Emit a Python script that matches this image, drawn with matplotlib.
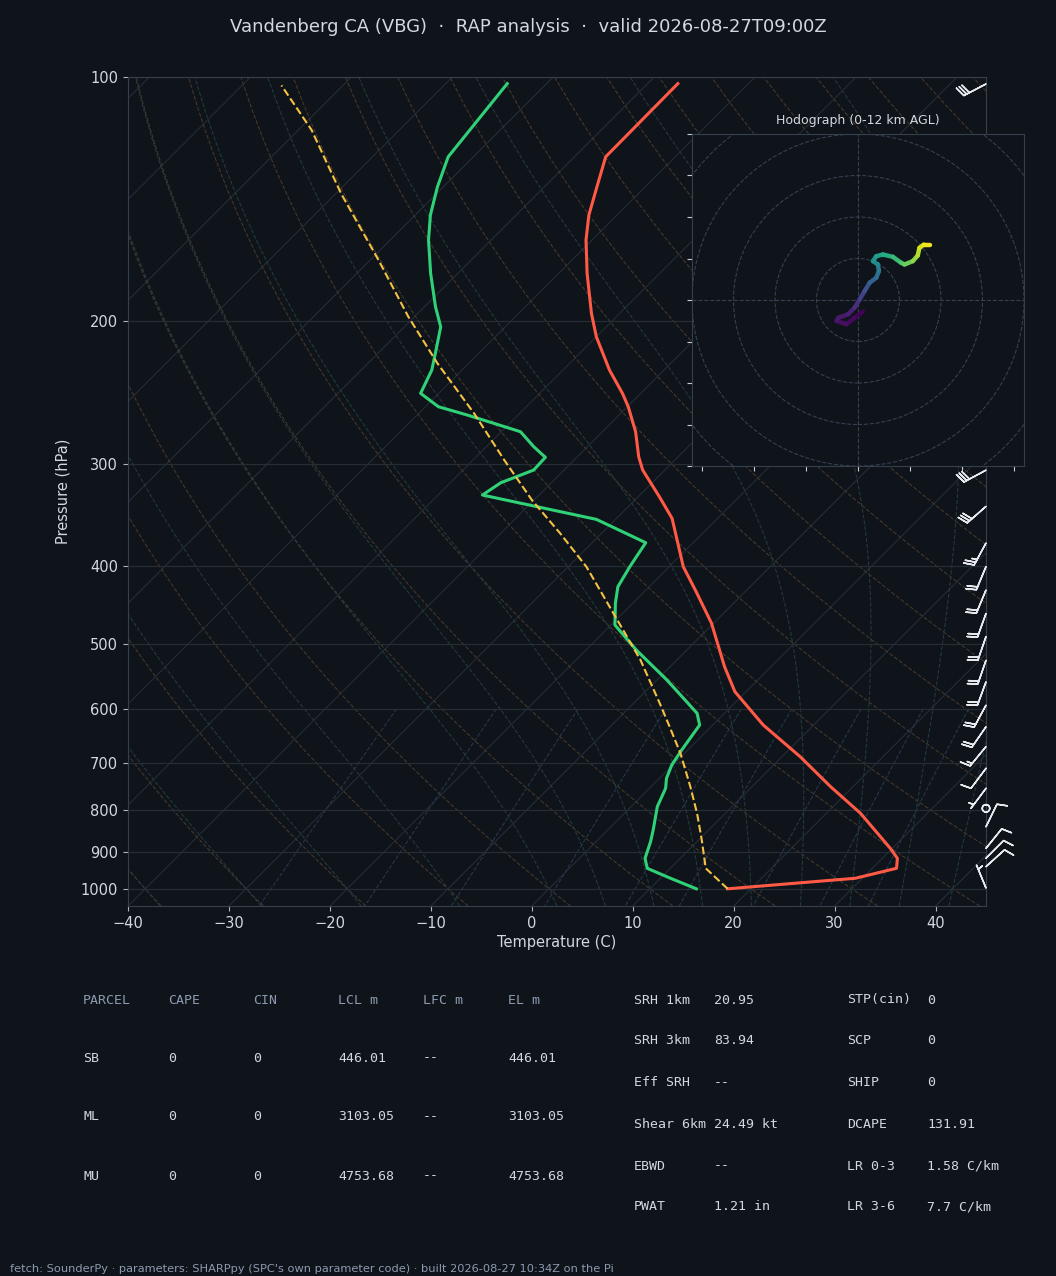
import numpy as np
import matplotlib
matplotlib.use('Agg')
import matplotlib.pyplot as plt
from matplotlib.transforms import Affine2D, blended_transform_factory
from matplotlib.collections import LineCollection
from matplotlib.patches import Circle
from matplotlib.ticker import FixedLocator, ScalarFormatter, NullLocator

# ---- sounding (hPa, degC) ----
PRES_T = [1000, 970.6, 943.5, 917.2, 891.5, 807.4, 748.7, 687.5, 628.4, 571.8,
          532.7, 470.9, 428.5, 401.1, 349.7, 328.9, 304.9, 293.7, 273.5, 254.8,
          245.3, 229.6, 208.9, 195.5, 174.5, 158.8, 147.9, 136.5, 125.4, 101.9]
TEMP = [17.7, 29.3, 32.4, 31.5, 29.8, 23.4, 17.8, 11.8, 5.0, -1.1,
        -4.6, -10.2, -15.1, -18.6, -24.5, -27.9, -32.2, -33.9, -36.7, -39.9,
        -41.8, -45.4, -50.0, -52.8, -57.2, -60.6, -62.8, -64.8, -66.9, -67.0]

PRES_TD = [1000, 970.6, 943.5, 917.2, 875, 846.4, 792.3, 752, 731, 703.9,
           674.6, 628.4, 608, 588.2, 553.1, 508, 473.2, 445, 424.5, 401.1,
           374.7, 350.7, 327.3, 316.1, 304.9, 294.1, 285.4, 273.5, 260.9, 254.8,
           245.3, 229.6, 219, 203.1, 191.9, 174.5, 158.8, 147.9, 136.5, 125.4, 101.9]
DWPT = [14.6, 11.0, 7.7, 6.5, 5.4, 4.5, 2.6, 1.6, 0.7, -0.1,
        -0.6, -1.3, -2.7, -4.9, -9.0, -15.0, -19.6, -21.7, -23.1, -23.9,
        -24.7, -31.9, -45.6, -45.0, -43.0, -43.1, -45.3, -48.1, -55.0, -58.7,
        -61.8, -63.0, -64.3, -66.4, -68.9, -72.7, -76.2, -78.5, -80.6, -82.5, -83.9]

PRES_PCL = [1000, 943.5, 870.7, 807.4, 748.7, 680.9, 631.5, 590.9, 522.6, 457.8,
            401.1, 364.9, 332, 296.4, 259.7, 225.3, 197.4, 168, 139.1, 116.2, 102.4]
PARCEL = [17.7, 13.5, 10.3, 7.2, 3.9, -0.4, -4.1, -7.4, -13.6, -20.9,
          -28.2, -34.1, -40.2, -46.9, -54.5, -63.1, -70.6, -79.2, -89.5, -98.7, -106.1]

# ---- wind barbs (kt) ----
BARB_P = [102, 305, 338, 375, 401, 428.5, 458, 489, 523, 556, 594, 631.5,
          668, 710.5, 752, 796, 838.5, 891.5, 917, 939, 998]
BARB_U = [26.6, 26.4, 22.5, 11.9, 7.7, 7.7, 6.8, 6.5, 6.5, 6.9, 9.5, 11.4,
          9.5, 6.0, 3.0, 0.0, -4.4, -6.3, -7.1, -7.4, 1.9]
BARB_V = [13.9, 14.2, 19.8, 22.0, 18.5, 18.5, 18.8, 18.9, 18.9, 18.8, 17.6, 16.5,
          11.6, 8.0, 4.0, 0.0, -9.0, -7.8, -7.1, -6.7, -4.6]

# ---- hodograph 0-12 km ----
HODO_U = [1.2, -0.8, -2.8, -5.2, -4.8, -2.4, -0.8, 0.4, 1.6, 2.8, 4.4, 5.04,
          4.8, 3.6, 4.4, 6.0, 8.4, 10.4, 11.2, 13.2, 14.4, 14.8, 15.84, 17.44]
HODO_V = [-2.8, -4.24, -5.84, -5.04, -4.32, -3.44, -1.84, 0.16, 2.16, 4.16, 5.36, 6.96,
          8.56, 9.36, 10.56, 10.96, 10.4, 8.96, 8.56, 9.36, 10.72, 12.56, 13.36, 13.36]
HODO_Z = [0, 0.15, 0.35, 0.55, 0.7, 0.9, 1.3, 1.9, 2.6, 3.3, 4.0, 4.6,
          5.2, 5.8, 6.4, 7.0, 7.8, 8.5, 9.0, 9.6, 10.3, 11.0, 11.5, 12.0]

# ---- parameter table ----
PARCEL_HEAD = ['PARCEL', 'CAPE', 'CIN', 'LCL m', 'LFC m', 'EL m']
PARCEL_ROWS = [['SB', '0', '0', '446.01', '--', '446.01'],
               ['ML', '0', '0', '3103.05', '--', '3103.05'],
               ['MU', '0', '0', '4753.68', '--', '4753.68']]
IDX_A = [('SRH 1km', '20.95'), ('SRH 3km', '83.94'), ('Eff SRH', '--'),
         ('Shear 6km', '24.49 kt'), ('EBWD', '--'), ('PWAT', '1.21 in')]
IDX_B = [('STP(cin)', '0'), ('SCP', '0'), ('SHIP', '0'),
         ('DCAPE', '131.91'), ('LR 0-3', '1.58 C/km'), ('LR 3-6', '7.7 C/km')]

MIX_RATIOS = [0.0004, 0.001, 0.002, 0.004, 0.007, 0.01, 0.016, 0.024, 0.032]

BG = '#0f131a'
TXT = '#d3d7de'
MUTED = '#8c9bb1'
GRID = '#252d37'
SPINE = '#36404d'

W_PX, H_PX = 1056, 1276
fig = plt.figure(figsize=(W_PX / 100, H_PX / 100), dpi=100, facecolor=BG)


def fx(x):
    return x / W_PX


def fy(y):
    return 1 - y / H_PX


# skew-T axes
L, R, T, B = 128, 986, 77, 906
ax = fig.add_axes([fx(L), fy(B), (R - L) / W_PX, (B - T) / H_PX])
ax.set_facecolor(BG)
ax.set_yscale('log')
ax.set_ylim(1050, 100)
ax.set_xlim(-40, 45)
ax.autoscale(False)
aspect = (B - T) / (R - L)
skew = ax.transScale + ax.transLimits + \
    Affine2D(np.array([[1.0, aspect, 0.0], [0.0, 1.0, 0.0], [0.0, 0.0, 1.0]])) + ax.transAxes

# isotherms
for t in range(-130, 50, 10):
    ax.plot([t, t], [1050, 100], transform=skew, color=GRID, lw=0.8, zorder=1)

# dry adiabats
p_bg = np.linspace(1050, 100, 120)
for t0 in np.arange(-40, 45 + 201, 10):
    td = (t0 + 273.15) * (p_bg / 1000.0) ** 0.2857 - 273.15
    ax.plot(td, p_bg, transform=skew, color='#43382a', lw=0.8, ls='--', zorder=1)


# moist adiabats
def moist_dtdp(p, t):
    es = 6.112 * np.exp(17.67 * (t - 273.15) / (t - 29.65))
    rs = 0.622 * es / (p - es)
    return (287.04 * t + 2.501e6 * rs) / (1005.7 + 2.501e6 ** 2 * rs * 0.622 / (287.04 * t ** 2)) / p


def moist_curve(t0, levels):
    out = [t0 + 273.15]
    for p1, p2 in zip(levels[:-1], levels[1:]):
        h = p2 - p1
        tt = out[-1]
        k1 = moist_dtdp(p1, tt)
        k2 = moist_dtdp(p1 + h / 2, tt + h / 2 * k1)
        k3 = moist_dtdp(p1 + h / 2, tt + h / 2 * k2)
        k4 = moist_dtdp(p2, tt + h * k3)
        out.append(tt + h / 6 * (k1 + 2 * k2 + 2 * k3 + k4))
    return np.array(out) - 273.15


up = np.arange(1000, 99, -10.0)
down = np.arange(1000, 1051, 10.0)
for t0 in np.concatenate((np.arange(-40, 0, 10), np.arange(0, 45 + 51, 5))):
    tm = np.concatenate((moist_curve(t0, down)[::-1], moist_curve(t0, up)[1:]))
    pm = np.concatenate((down[::-1], up[1:]))
    ax.plot(tm, pm, transform=skew, color='#223a3c', lw=0.8, ls='--', zorder=1)

# mixing ratio lines
p_mix = np.linspace(600, 1050, 40)
for w in MIX_RATIOS:
    e = p_mix * w / (0.622 + w)
    le = np.log(e / 6.112)
    tdw = 243.5 * le / (17.67 - le)
    ax.plot(tdw, p_mix, transform=skew, color='#27374a', lw=0.8, ls='--', zorder=1)

# profiles
ax.plot(TEMP, PRES_T, transform=skew, color='#ff5a45', lw=2.2, zorder=4)
ax.plot(DWPT, PRES_TD, transform=skew, color='#30d278', lw=2.2, zorder=4)
ax.plot(PARCEL, PRES_PCL, transform=skew, color='#f5c242', lw=1.5, ls='--', zorder=4)

# barbs on the right edge
barb_tr = blended_transform_factory(ax.transAxes, ax.transData)
ax.barbs(np.ones(len(BARB_P)), BARB_P, BARB_U, BARB_V, transform=barb_tr,
         clip_on=False, length=6, color='#e6e9ee', lw=1.1, zorder=5)

ax.yaxis.set_major_locator(FixedLocator(range(100, 1001, 100)))
ax.yaxis.set_major_formatter(ScalarFormatter())
ax.yaxis.set_minor_locator(NullLocator())
ax.grid(True, axis='y', color=GRID, lw=0.9)
ax.tick_params(colors='#aab3c0', labelcolor=TXT, labelsize=10.5, length=3.5)
for s in ax.spines.values():
    s.set_color(SPINE)
ax.set_ylim(1050, 100)
ax.set_xlim(-40, 45)

fig.text(fx(63), fy(491), 'Pressure (hPa)', rotation=90, ha='center', va='center',
         color=TXT, fontsize=10.5)
fig.text(fx(557), fy(943), 'Temperature (C)', ha='center', va='center',
         color=TXT, fontsize=10.5)
fig.text(fx(528), fy(27), 'Vandenberg CA (VBG)  \u00b7  RAP analysis  \u00b7  valid 2026-08-27T09:00Z',
         ha='center', va='center', color=TXT, fontsize=13)

# hodograph inset
hx0, hy0, hs = 692, 466, 332
hax = fig.add_axes([fx(hx0), fy(hy0), hs / W_PX, hs / H_PX])
hax.set_facecolor(BG)
hax.set_xlim(-40, 40)
hax.set_ylim(-40, 40)
for r in range(10, 60, 10):
    hax.add_patch(Circle((0, 0), r, fill=False, ec='#354150', lw=0.8, ls='--'))
hax.axhline(0, color='#354150', lw=0.8, ls='--')
hax.axvline(0, color='#354150', lw=0.8, ls='--')
pts = np.column_stack([HODO_U, HODO_V])
segs = np.stack([pts[:-1], pts[1:]], axis=1)
zmid = (np.array(HODO_Z[:-1]) + np.array(HODO_Z[1:])) / 2
lc = LineCollection(segs, cmap='viridis', lw=3.2, capstyle='round', joinstyle='round')
lc.set_array(zmid)
lc.set_clim(0, 12)
hax.add_collection(lc)
hax.set_xticks(np.arange(-37.5, 40, 12.5))
hax.set_yticks(np.arange(-40, 41, 10))
hax.tick_params(colors='#c8ccd4', labelleft=False, labelbottom=False, length=3.5, width=0.8)
for s in hax.spines.values():
    s.set_color(SPINE)
hax.set_title('Hodograph (0-12 km AGL)', color=TXT, fontsize=9, pad=7)

# parameter table
mono = 'DejaVu Sans Mono'
col_x = [83, 168, 253, 338, 423, 508]
for x, h in zip(col_x, PARCEL_HEAD):
    fig.text(fx(x), fy(1000), h, family=mono, fontsize=9.5, color=MUTED, va='center')
for y, row in zip([1058, 1117, 1176], PARCEL_ROWS):
    for x, v in zip(col_x, row):
        fig.text(fx(x), fy(y), v, family=mono, fontsize=9.5, color=TXT, va='center')
rows_y = [1000, 1041, 1083, 1124, 1166, 1207]
for y, (a, b), (c, d) in zip(rows_y, IDX_A, IDX_B):
    fig.text(fx(634), fy(y), a, family=mono, fontsize=9.5, color=TXT, va='center')
    fig.text(fx(714), fy(y), b, family=mono, fontsize=9.5, color=TXT, va='center')
    fig.text(fx(847), fy(y), c, family=mono, fontsize=9.5, color=TXT, va='center')
    fig.text(fx(927), fy(y), d, family=mono, fontsize=9.5, color=TXT, va='center')

fig.text(fx(10), fy(1269), "fetch: SounderPy \u00b7 parameters: SHARPpy (SPC's own parameter code) \u00b7 built 2026-08-27 10:34Z on the Pi",
         fontsize=8.2, color=MUTED, va='center')

fig.savefig('out.png', dpi=100, facecolor=BG)
